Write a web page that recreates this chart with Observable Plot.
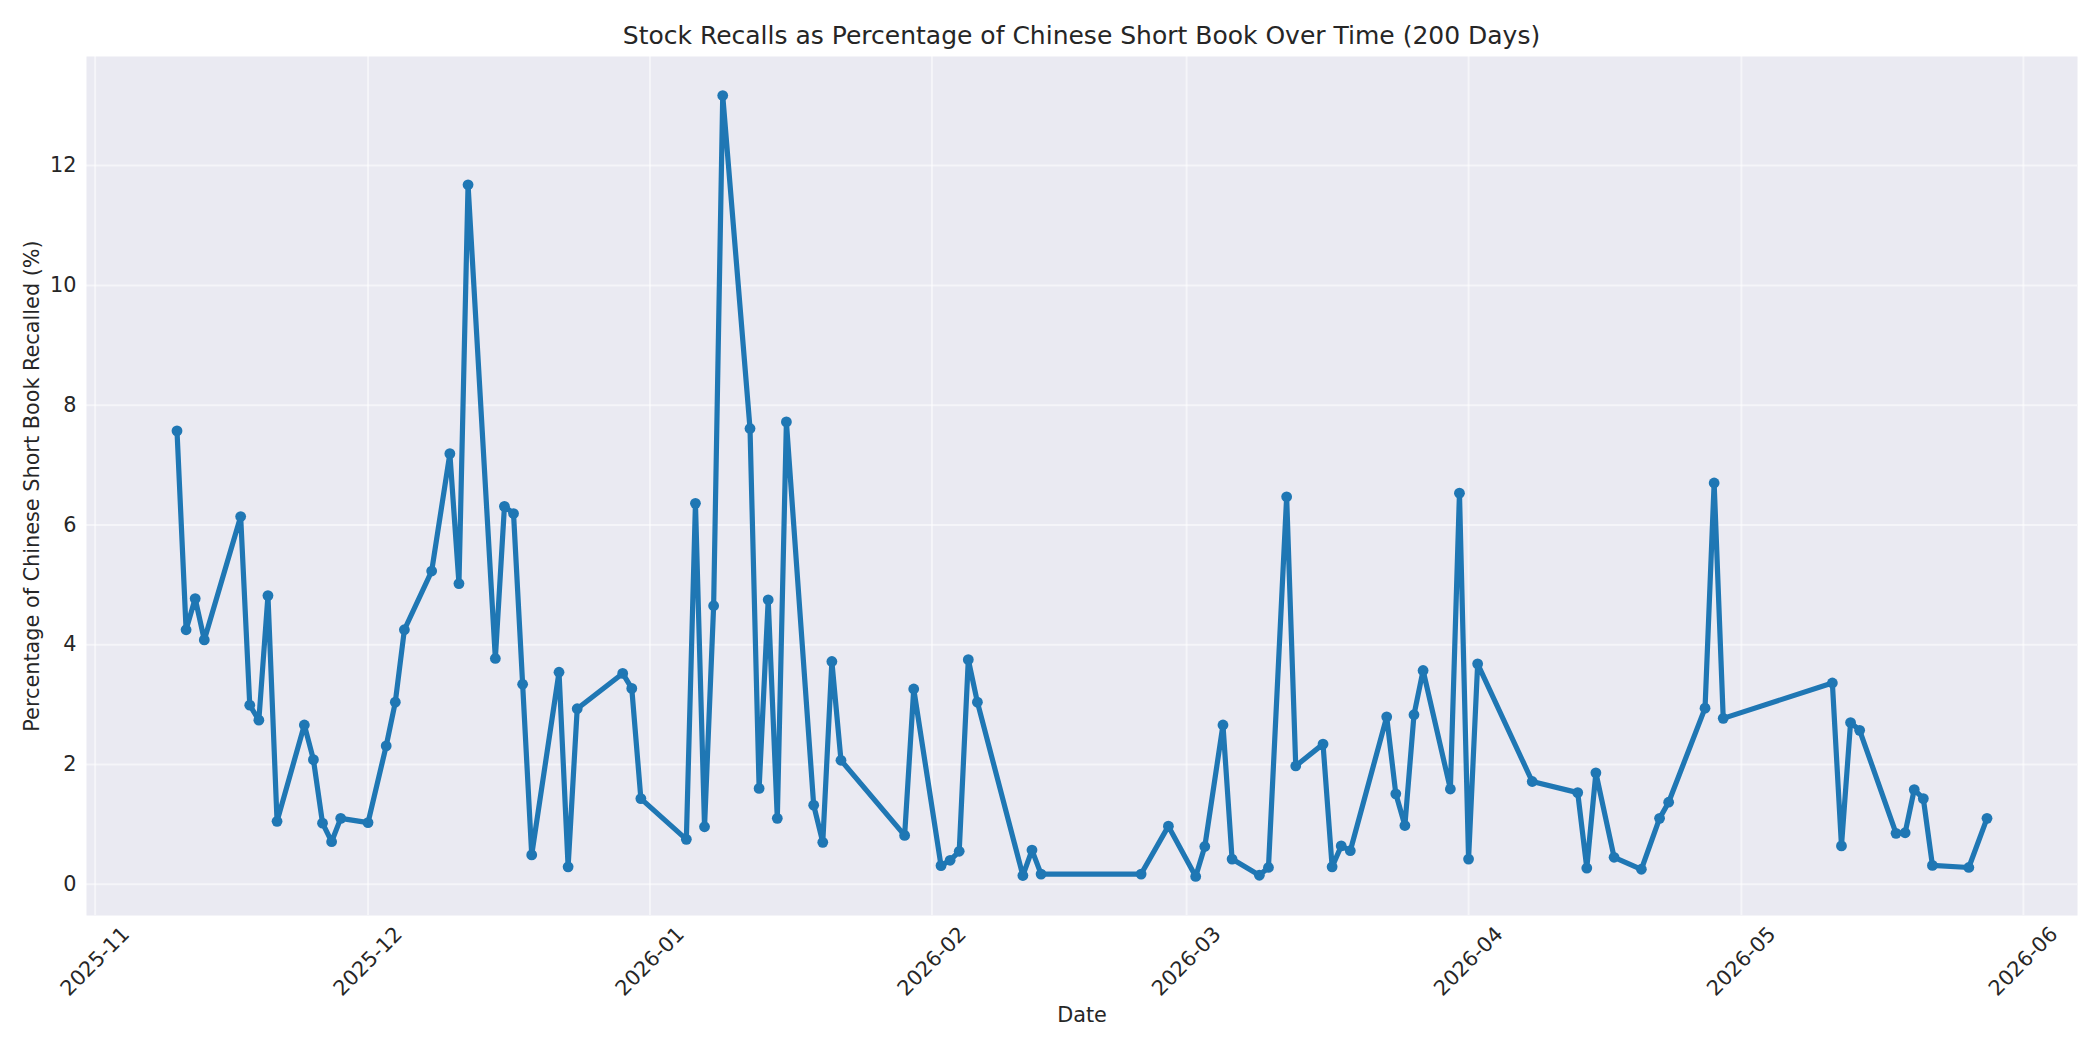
<!DOCTYPE html>
<html>
<head>
<meta charset="utf-8">
<script src="https://cdn.jsdelivr.net/npm/d3@7"></script>
<script src="https://cdn.jsdelivr.net/npm/@observablehq/plot@0.6"></script>
<style>
  html, body { margin: 0; padding: 0; background: #ffffff; }
  #wrap { width: 2100px; height: 1050px; position: relative; font-family: "DejaVu Sans", sans-serif; color: #262626; }
  #title { position: absolute; left: 86px; width: 1991px; top: 0; height: 50px; text-align: center; font-size: 25px; line-height: 26px; }
  #title span { position: absolute; left: 0; right: 0; top: 23px; }
  #chart { position: absolute; left: 0; top: 50px; }
</style>
</head>
<body>
<div id="wrap">
  <div id="title"><span>Stock Recalls as Percentage of Chinese Short Book Over Time (200 Days)</span></div>
  <div id="chart"></div>
</div>
<script>
const dates = [
  "2025-11-10","2025-11-11","2025-11-12","2025-11-13","2025-11-17","2025-11-18","2025-11-19","2025-11-20","2025-11-21",
  "2025-11-24","2025-11-25","2025-11-26","2025-11-27","2025-11-28",
  "2025-12-01","2025-12-03","2025-12-04","2025-12-05","2025-12-08","2025-12-10","2025-12-11","2025-12-12",
  "2025-12-15","2025-12-16","2025-12-17","2025-12-18","2025-12-19","2025-12-22","2025-12-23","2025-12-24",
  "2025-12-29","2025-12-30","2025-12-31",
  "2026-01-05","2026-01-06","2026-01-07","2026-01-08","2026-01-09","2026-01-12","2026-01-13","2026-01-14","2026-01-15","2026-01-16",
  "2026-01-19","2026-01-20","2026-01-21","2026-01-22","2026-01-29","2026-01-30",
  "2026-02-02","2026-02-03","2026-02-04","2026-02-05","2026-02-06","2026-02-11","2026-02-12","2026-02-13","2026-02-24","2026-02-27",
  "2026-03-02","2026-03-03","2026-03-05","2026-03-06","2026-03-09","2026-03-10","2026-03-12","2026-03-13",
  "2026-03-16","2026-03-17","2026-03-18","2026-03-19","2026-03-23","2026-03-24","2026-03-25","2026-03-26","2026-03-27",
  "2026-03-30","2026-03-31","2026-04-01","2026-04-02","2026-04-08",
  "2026-04-13","2026-04-14","2026-04-15","2026-04-17","2026-04-20","2026-04-22","2026-04-23","2026-04-27","2026-04-28","2026-04-29",
  "2026-05-11","2026-05-12","2026-05-13","2026-05-14","2026-05-18","2026-05-19","2026-05-20","2026-05-21","2026-05-22",
  "2026-05-26","2026-05-28"
];
const values = [
  7.57,4.25,4.77,4.08,6.14,2.99,2.74,4.82,1.05,
  2.66,2.08,1.02,0.71,1.10,
  1.03,2.31,3.04,4.25,5.23,7.19,5.02,11.68,
  3.77,6.31,6.19,3.34,0.49,3.54,0.29,2.93,
  3.52,3.27,1.43,
  0.75,6.36,0.96,4.65,13.17,7.61,1.60,4.75,1.10,7.72,
  1.32,0.70,3.72,2.07,0.815,3.26,
  0.31,0.40,0.55,3.75,3.04,0.145,0.57,0.17,0.17,0.97,
  0.13,0.63,2.66,0.42,0.15,0.28,6.47,1.975,
  2.34,0.29,0.64,0.56,2.795,1.51,0.98,2.83,3.57,
  1.59,6.53,0.42,3.68,1.716,
  1.53,0.27,1.86,0.45,0.25,1.10,1.37,2.94,6.70,2.77,
  3.36,0.64,2.70,2.57,0.85,0.86,1.58,1.43,0.315,
  0.28,1.10
];
const yTicks = [0, 2, 4, 6, 8, 10, 12];
const xTickLabels = ["2025-11","2025-12","2026-01","2026-02","2026-03","2026-04","2026-05","2026-06"];

const xLabel = "Date";
const yLabel = "Percentage of Chinese Short Book Recalled (%)";

const data = dates.map((d, i) => ({date: new Date(d + "T00:00:00Z"), value: values[i]}));
const xTicks = xTickLabels.map(s => new Date(s + "-01T00:00:00Z"));

// matplotlib-style 5% margins
const tMin = d3.min(data, d => +d.date), tMax = d3.max(data, d => +d.date);
const tPad = (tMax - tMin) * 0.05;
const vMin = d3.min(values), vMax = d3.max(values);
const vPad = (vMax - vMin) * 0.05;

const textColor = "#262626";
const fs = 20.8;

const chart = Plot.plot({
  width: 2100,
  height: 1000,
  marginTop: 6,
  marginBottom: 135,
  marginLeft: 86,
  marginRight: 23,
  style: {fontFamily: "DejaVu Sans, sans-serif", fontSize: fs + "px", color: textColor, background: "transparent", overflow: "visible"},
  x: {type: "utc", domain: [new Date(tMin - tPad), new Date(tMax + tPad)], axis: null},
  y: {domain: [vMin - vPad, vMax + vPad], axis: null},
  marks: [
    Plot.frame({fill: "#EAEAF2", stroke: null}),
    Plot.gridY(yTicks, {stroke: "#ffffff", strokeOpacity: 0.5, strokeWidth: 2}),
    Plot.gridX(xTicks, {stroke: "#ffffff", strokeOpacity: 0.5, strokeWidth: 2}),
    Plot.line(data, {x: "date", y: "value", stroke: "#1f77b4", strokeWidth: 5.2, strokeLinejoin: "round", strokeLinecap: "round"}),
    Plot.dot(data, {x: "date", y: "value", r: 5.4, fill: "#1f77b4", stroke: null}),
    Plot.axisY(yTicks, {tickSize: 0, tickPadding: 10, fontSize: fs, fill: textColor, label: null, tickFormat: d => String(d)}),
    Plot.text(xTicks, {x: d => d, frameAnchor: "bottom", dy: 46, rotate: -45, text: (d, i) => xTickLabels[i],
      fontSize: fs, fill: textColor, textAnchor: "middle", lineAnchor: "middle"}),
    Plot.text([xLabel], {frameAnchor: "bottom", dy: 100, text: d => d, fontSize: fs, fill: textColor, textAnchor: "middle", lineAnchor: "middle"}),
    Plot.text([yLabel], {frameAnchor: "left", dx: -54, rotate: -90, text: d => d, fontSize: fs, fill: textColor, textAnchor: "middle", lineAnchor: "middle"})
  ]
});
document.getElementById("chart").appendChild(chart);
</script>
</body>
</html>
